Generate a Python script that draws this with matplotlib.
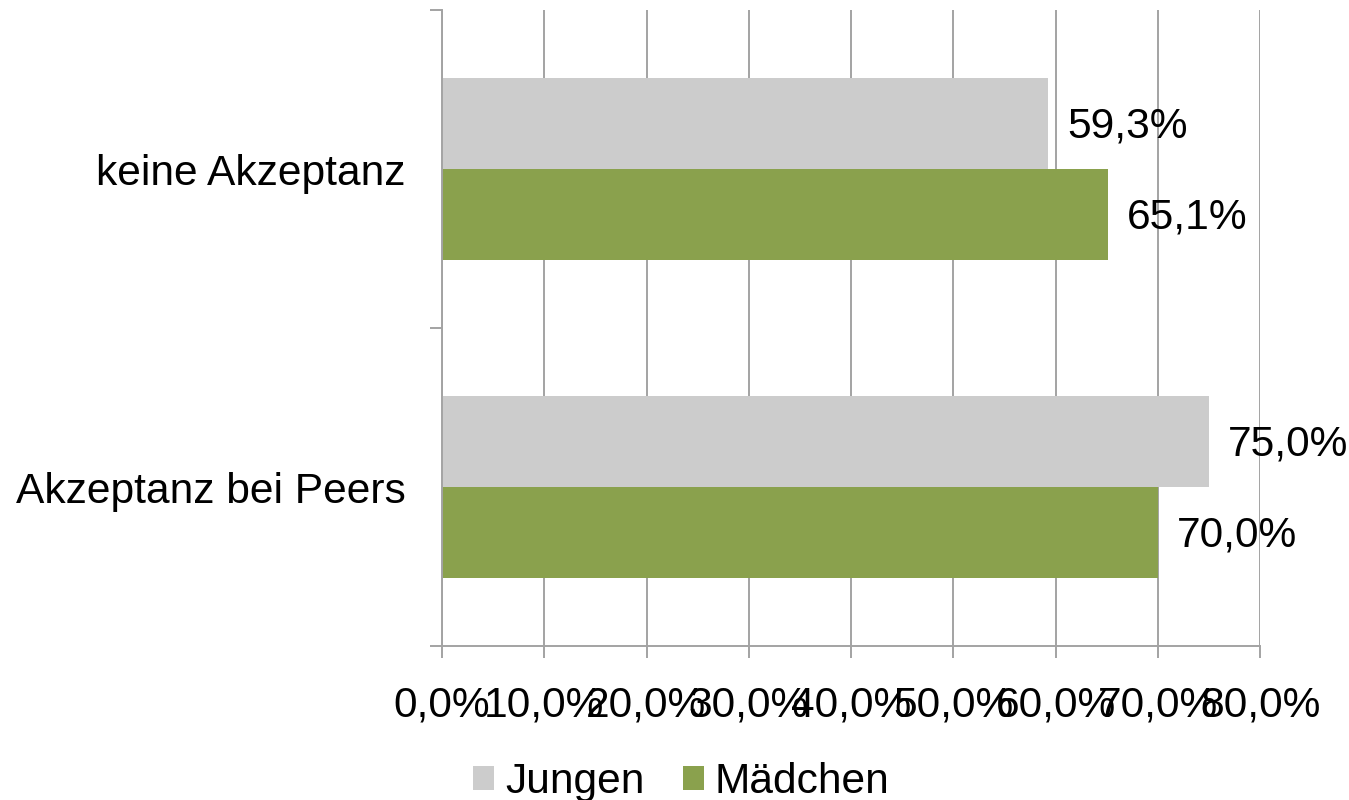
import numpy as np
import matplotlib
matplotlib.use('Agg')
import matplotlib.pyplot as plt
from matplotlib.ticker import FuncFormatter

plt.rcParams['font.family'] = 'Liberation Sans'

categories = ['Akzeptanz bei Peers', 'keine Akzeptanz']
jungen = [75.0, 59.3]
maedchen = [70.0, 65.1]
series_names = ['Jungen', 'Mädchen']

grey = '#CCCCCC'
green = '#8AA14D'
line_grey = '#A3A3A3'
fs = 30.6

fig = plt.figure(figsize=(13.49, 8.0), dpi=100)
ax = fig.add_axes([442 / 1349, 1 - 646 / 800, (1260 - 442) / 1349, (646 - 10) / 800])

y = np.arange(len(categories))
h = 0.285
b1 = ax.barh(y + h / 2, jungen, height=h, color=grey, label=series_names[0], zorder=2)
b2 = ax.barh(y - h / 2, maedchen, height=h, color=green, label=series_names[1], zorder=2)

for bars, vals in [(b1, jungen), (b2, maedchen)]:
    for bar, v in zip(bars, vals):
        ax.annotate(f'{v:.1f}%'.replace('.', ','),
                    (v, bar.get_y() + bar.get_height() / 2),
                    xytext=(14, -2), textcoords='offset points',
                    ha='left', va='center', fontsize=fs)

ax.set_xlim(0, 80)
ax.set_ylim(-0.5, 1.5)
ax.set_xticks(np.arange(0, 81, 10))
ax.xaxis.set_major_formatter(FuncFormatter(lambda v, p: f'{v:.1f}%'.replace('.', ',')))
ax.tick_params(axis='x', length=8.6, width=1.4, color=line_grey, labelsize=fs, pad=20)

# category boundaries get the tick marks, labels sit on the minor ticks
ax.set_yticks([-0.5, 0.5, 1.5])
ax.set_yticklabels([])
ax.set_yticks(y, minor=True)
ax.set_yticklabels(categories, minor=True)
ax.tick_params(axis='y', which='major', length=8.6, width=1.4, color=line_grey)
ax.tick_params(axis='y', which='minor', length=0, labelsize=fs, pad=26)

ax.grid(axis='x', color=line_grey, linewidth=1.4, zorder=0)
ax.set_axisbelow(True)
for s in ['top', 'right']:
    ax.spines[s].set_visible(False)
for s in ['left', 'bottom']:
    ax.spines[s].set_color(line_grey)
    ax.spines[s].set_linewidth(1.4)

fig.legend(loc='lower center', bbox_to_anchor=(0.505, -0.05), ncol=2, frameon=False,
           fontsize=fs, handlelength=0.5, handleheight=0.5, handletextpad=0.25,
           columnspacing=0.9)

fig.savefig('out.png', dpi=100)
